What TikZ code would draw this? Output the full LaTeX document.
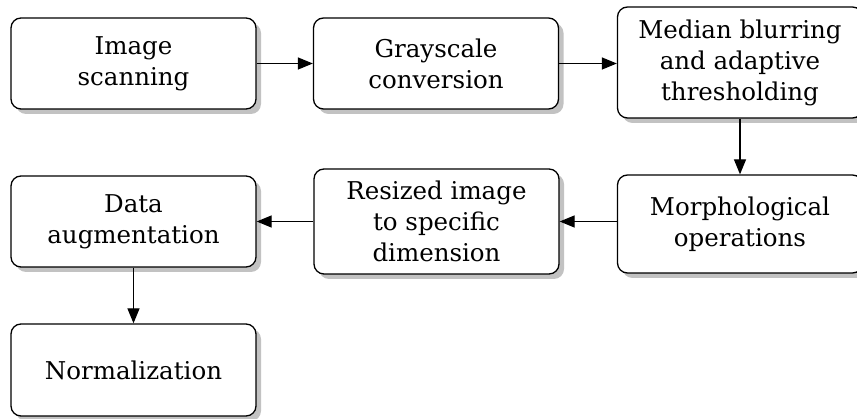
\documentclass[tikz,border=0pt]{standalone}
\usepackage{fontspec}
\setmainfont{DejaVu Serif}
\usetikzlibrary{shadows,arrows.meta}
\tikzset{
  stepbox/.style={draw=black, line width=1.3pt, fill=white, rounded corners=10pt,
    align=center, inner sep=0pt, minimum width=245pt,
    font=\fontsize{24.5}{31}\selectfont,
    drop shadow={shadow xshift=5pt, shadow yshift=-5pt, fill=black!24, opacity=1}},
  flow/.style={line width=1.3pt, -{Triangle[length=15pt,width=12pt]}}
}
\begin{document}
\begin{tikzpicture}[x=1pt,y=1pt]
\useasboundingbox (0,0) rectangle (857,-419);
\clip (0,0) rectangle (857,-419);
\node[stepbox, minimum height=91pt] (scan) at (133.5,-63.5) {Image\\scanning};
\node[stepbox, minimum height=91pt] (gray) at (436,-63.5) {Grayscale\\conversion};
\node[stepbox, minimum height=111pt] (median) at (740,-62.5) {Median blurring\\and adaptive\\thresholding};
\node[stepbox, minimum height=98pt] (morph) at (740,-224) {Morphological\\operations};
\node[stepbox, minimum height=105pt] (resize) at (436.5,-221.5) {Resized image\\to specific\\dimension};
\node[stepbox, minimum height=91pt] (aug) at (133.5,-221.5) {Data\\augmentation};
\node[stepbox, minimum height=92pt] (norm) at (133.5,-370) {Normalization};
\draw[flow] (scan.east) -- (gray.west);
\draw[flow] (gray.east) -- (gray.east -| median.west);
\draw[flow] (median.south) -- (morph.north);
\draw[flow] (morph.west |- resize.east) -- (resize.east);
\draw[flow] (resize.west) -- (aug.east);
\draw[flow] (aug.south) -- (norm.north);
\end{tikzpicture}
\end{document}
